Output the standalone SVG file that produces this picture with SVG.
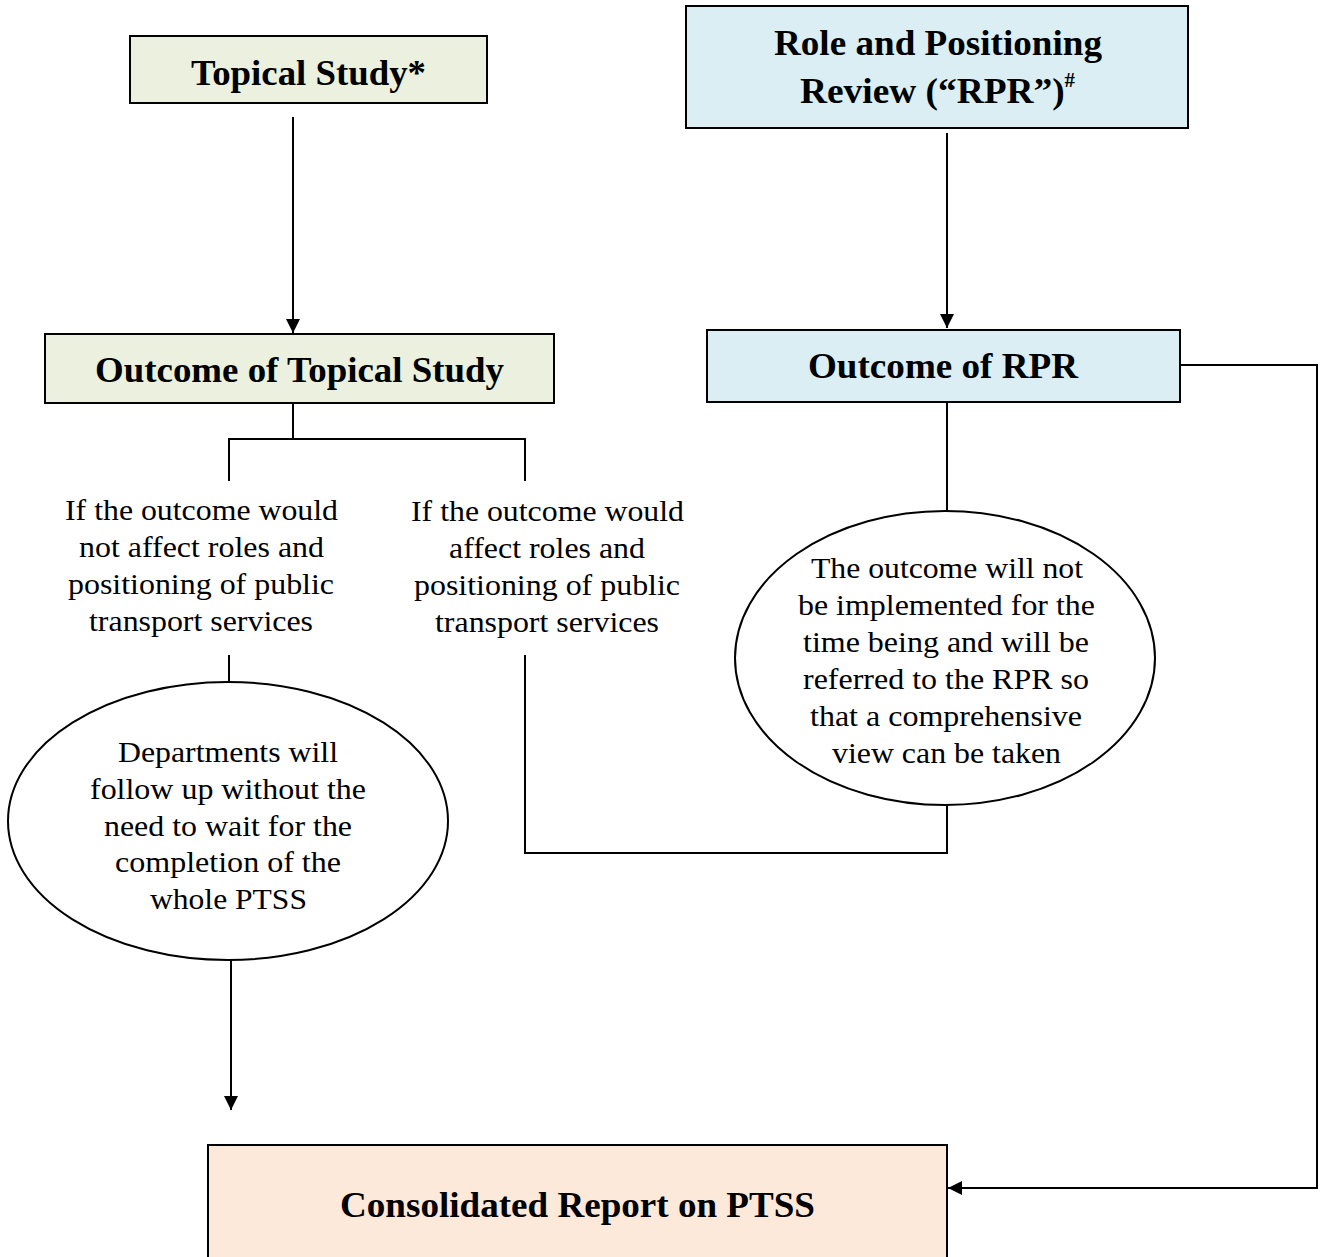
<svg xmlns="http://www.w3.org/2000/svg" width="1325" height="1257" viewBox="0 0 1325 1257">
<style>
.box{stroke:#000;stroke-width:2}
.g{fill:#EBF1DE}
.b{fill:#DBEEF3}
.p{fill:#FDE9D9}
.t{font-family:"Liberation Serif",serif;font-weight:bold;fill:#000;text-anchor:middle}
.n{font-family:"Liberation Serif",serif;font-size:28.5px;fill:#000;text-anchor:middle}
.c{fill:none;stroke:#000;stroke-width:2}
.e{fill:#fff;stroke:#000;stroke-width:2}
</style>
<defs>
<marker id="ah" viewBox="0 0 10 10" refX="10" refY="5" markerWidth="14" markerHeight="14" markerUnits="userSpaceOnUse" orient="auto">
<path d="M0,0 L10,5 L0,10 z" fill="#000"/>
</marker>
</defs>
<rect width="1325" height="1257" fill="#fff"/>
<g id="connectors">
<line class="c" x1="293" y1="117" x2="293" y2="333" marker-end="url(#ah)"/>
<line class="c" x1="947" y1="133" x2="947" y2="328" marker-end="url(#ah)"/>
<polyline class="c" points="293,403 293,439"/>
<polyline class="c" points="229,481 229,439 525,439 525,481"/>
<line class="c" x1="229" y1="655" x2="229" y2="683"/>
<line class="c" x1="231" y1="960" x2="231" y2="1110" marker-end="url(#ah)"/>
<polyline class="c" points="525,655 525,853 947,853 947,806"/>
<line class="c" x1="947" y1="402" x2="947" y2="511"/>
<polyline class="c" points="1180,365 1317,365 1317,1188 948,1188" marker-end="url(#ah)"/>
</g>
<g id="topical-study">
<rect class="box g" x="130" y="36" width="357" height="67"/>
<text class="t" x="308.5" y="85" font-size="35" textLength="235" lengthAdjust="spacingAndGlyphs">Topical Study*</text>
</g>
<g id="rpr">
<rect class="box b" x="686" y="6" width="502" height="122"/>
<text class="t" x="938" y="55" font-size="36" textLength="328" lengthAdjust="spacingAndGlyphs">Role and Positioning</text>
<text class="t" x="937.5" y="103" font-size="36" textLength="275" lengthAdjust="spacingAndGlyphs">Review (“RPR”)<tspan font-size="20" dy="-16">#</tspan></text>
</g>
<g id="outcome-topical">
<rect class="box g" x="45" y="334" width="509" height="69"/>
<text class="t" x="299.5" y="382" font-size="36" textLength="409" lengthAdjust="spacingAndGlyphs">Outcome of Topical Study</text>
</g>
<g id="outcome-rpr">
<rect class="box b" x="707" y="330" width="473" height="72"/>
<text class="t" x="943" y="378" font-size="36" textLength="270" lengthAdjust="spacingAndGlyphs">Outcome of RPR</text>
</g>
<g id="label-not-affect">
<text class="n" x="201.5" y="520" textLength="273" lengthAdjust="spacingAndGlyphs">If the outcome would</text>
<text class="n" x="201.5" y="557" textLength="245" lengthAdjust="spacingAndGlyphs">not affect roles and</text>
<text class="n" x="201" y="594" textLength="266" lengthAdjust="spacingAndGlyphs">positioning of public</text>
<text class="n" x="201" y="631" textLength="224" lengthAdjust="spacingAndGlyphs">transport services</text>
</g>
<g id="label-affect">
<text class="n" x="547.5" y="521" textLength="273" lengthAdjust="spacingAndGlyphs">If the outcome would</text>
<text class="n" x="547" y="558" textLength="196" lengthAdjust="spacingAndGlyphs">affect roles and</text>
<text class="n" x="547" y="595" textLength="266" lengthAdjust="spacingAndGlyphs">positioning of public</text>
<text class="n" x="547" y="632" textLength="224" lengthAdjust="spacingAndGlyphs">transport services</text>
</g>
<g id="departments">
<ellipse class="e" cx="228" cy="821" rx="220" ry="139"/>
<text class="n" x="228" y="762" textLength="220" lengthAdjust="spacingAndGlyphs">Departments will</text>
<text class="n" x="228" y="799" textLength="276" lengthAdjust="spacingAndGlyphs">follow up without the</text>
<text class="n" x="228" y="836" textLength="248" lengthAdjust="spacingAndGlyphs">need to wait for the</text>
<text class="n" x="228" y="872" textLength="226" lengthAdjust="spacingAndGlyphs">completion of the</text>
<text class="n" x="228.5" y="909" textLength="157" lengthAdjust="spacingAndGlyphs">whole PTSS</text>
</g>
<g id="not-implemented">
<ellipse class="e" cx="945" cy="658" rx="210" ry="147"/>
<text class="n" x="947" y="578" textLength="272" lengthAdjust="spacingAndGlyphs">The outcome will not</text>
<text class="n" x="946.5" y="615" textLength="297" lengthAdjust="spacingAndGlyphs">be implemented for the</text>
<text class="n" x="946" y="652" textLength="286" lengthAdjust="spacingAndGlyphs">time being and will be</text>
<text class="n" x="946" y="689" textLength="286" lengthAdjust="spacingAndGlyphs">referred to the RPR so</text>
<text class="n" x="946" y="726" textLength="272" lengthAdjust="spacingAndGlyphs">that a comprehensive</text>
<text class="n" x="946.5" y="763" textLength="229" lengthAdjust="spacingAndGlyphs">view can be taken</text>
</g>
<g id="consolidated">
<rect class="box p" x="208" y="1145" width="739" height="120"/>
<text class="t" x="577.5" y="1217" font-size="36" textLength="475" lengthAdjust="spacingAndGlyphs">Consolidated Report on PTSS</text>
</g>
</svg>
